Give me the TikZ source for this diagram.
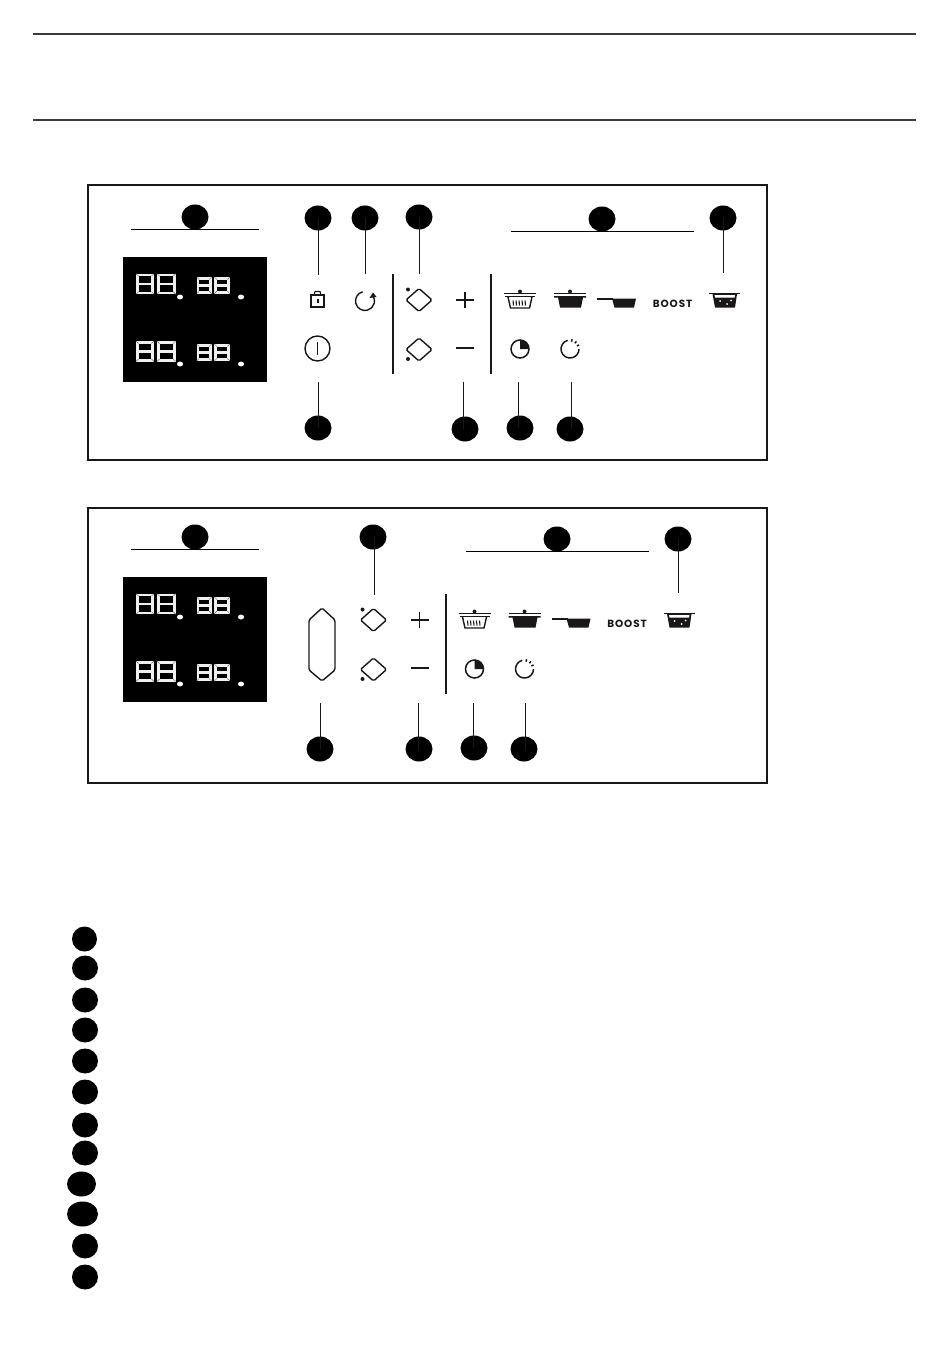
\documentclass[tikz,border=0pt]{standalone}
\usepackage{fontspec}
\newfontfamily\boostfont{Poppins}
\usetikzlibrary{shapes.geometric}
\definecolor{inkcol}{HTML}{1A1718}
\tikzset{
  badge/.style={ellipse,fill=black,inner sep=0pt,minimum width=27pt,minimum height=25pt},
  leader/.style={draw=inkcol,line width=1pt},
  headline/.style={draw=black,line width=1pt},
  panelbox/.style={draw=inkcol,line width=1.6pt},
  divider/.style={draw=inkcol,line width=2pt},
  icon/.style={draw=inkcol,line width=1.4pt},
  solid icon/.style={fill=inkcol,draw=none},
  seg/.style={draw=white!94!black,line width=2.6pt}
}
% one seven segment digit: left, top, width, height
\newcommand{\segdigit}[4]{
  \draw[seg] (#1,#2) rectangle ++(#3,-#4);
  \draw[seg] (#1,#2-0.5*#4) -- ++(#3,0);
  \draw[black!60,line width=0.4pt] (#1-1.3,#2+1.3) -- ++(2.6,-2.6);
  \draw[black!60,line width=0.4pt] (#1+#3+1.3,#2+1.3) -- ++(-2.6,-2.6);
  \draw[black!60,line width=0.4pt] (#1-1.3,#2-#4-1.3) -- ++(2.6,2.6);
  \draw[black!60,line width=0.4pt] (#1+#3+1.3,#2-#4-1.3) -- ++(-2.6,2.6);
}
\begin{document}
\begin{tikzpicture}[x=1pt,y=1pt]
  \useasboundingbox (0,0) rectangle (950,-1364);
  % page rules
  \draw[draw=inkcol!85,line width=1.5pt] (33,-34) -- (916,-34);
  \draw[draw=inkcol!85,line width=1.5pt] (33,-120) -- (916,-120);
  % panels
  \draw[panelbox] (88,-185) rectangle (767,-460);
  \draw[panelbox] (88,-508) rectangle (767,-783);
  % displays
  \foreach \dy in {0,-320}
  { \begin{scope}[yshift=\dy]
    \fill[black] (123,-257) rectangle (267,-382);
    \foreach \x/\w in {137.3/15.4,158.3/16.1}
    {   \segdigit{\x}{-275}{\w}{17.9}
        \segdigit{\x}{-342.3}{\w}{17.9}
    }
    \foreach \x/\w in {198/12.4,215.6/13.1}
    {   \segdigit{\x}{-278.3}{\w}{14.1}
        \segdigit{\x}{-345.3}{\w}{14.4}
    }
    \foreach \x in {180,241}
    {   \fill[white] (\x,-297) ellipse (3 and 2.5);
        \fill[white] (\x,-364) ellipse (3 and 2.5);
    }
    \end{scope}
  }
  % keys that both panels have
  \foreach \dx/\dy in {0/0,-45.5/-320}
  { \begin{scope}[xshift=\dx,yshift=\dy]
    % zone selection
    \draw[icon,rounded corners=1.5pt] (419,-288.5) -- (432,-300) -- (419,-311.5) -- (406,-300) -- cycle;
    \draw[icon,rounded corners=1.5pt] (419,-338) -- (432,-349.5) -- (419,-361) -- (406,-349.5) -- cycle;
    \fill[inkcol] (408,-289.5) circle (2);
    \fill[inkcol] (408,-359) circle (2);
    % plus and minus
    \draw[icon,line width=1.15pt] (456,-300) -- (474,-300);
    \draw[icon,line width=1.15pt] (465,-292) -- (465,-308);
    \draw[icon,line width=1.15pt] (456,-348) -- (474,-348);
    \draw[divider] (491,-274) -- (491,-374);
    % basket
    \fill[inkcol] (520,-291.5) circle (2);
    \draw[icon,line width=1.1pt] (504,-293.5) -- (536,-293.5);
    \draw[icon,line width=1.1pt] (505,-296.7) -- (535,-296.7);
    \draw[icon] (508,-297) -- (510.5,-308) -- (529.5,-308) -- (532,-297);
    \foreach \x in {513,516,519,522,525}
    {   \draw[inkcol,line width=1.1pt] (\x,-300.5) .. controls (\x+1,-302) and (\x-0.5,-303.5) .. (\x+0.5,-305.5);
    }
    % pot
    \fill[inkcol] (570,-291.5) circle (2);
    \draw[icon,line width=1.1pt] (554,-293.5) -- (586,-293.5);
    \fill[solid icon] (554,-296) -- (586,-296) -- (586,-297.5) -- (583,-297.5) -- (581,-307.5) -- (560,-307.5) -- (558,-297.5) -- (554,-297.5) -- cycle;
    % pan
    \draw[icon,line width=1.2pt] (597,-299) -- (613,-299);
    \fill[solid icon] (612,-298.5) -- (636,-298.5) -- (634,-307.5) -- (614.5,-307.5) -- cycle;
    % boost
    \node[inner sep=0pt,text=inkcol] (boost\dy) at (672.5,-303.5) {\fontsize{10.4}{11}\boostfont\addfontfeature{LetterSpace=9}\bfseries BOOST};
    % bubbles
    \draw[icon,line width=1.2pt] (709,-293.7) -- (740,-293.7);
    \fill[solid icon] (712.5,-294) -- (737,-294) -- (735,-307.5) -- (715,-307.5) -- cycle;
    \fill[white] (714.5,-295) -- (735,-295) -- (734.5,-297.5) -- (715,-297.5) -- cycle;
    \fill[white] (720,-301) circle (1);
    \fill[white] (727,-304) circle (1);
    \fill[white] (731,-300.5) circle (1);
    % timer
    \draw[icon,line width=1.5pt] (520,-349) circle (9);
    \fill[inkcol] (520,-349) -- (520,-340) arc[start angle=90,end angle=0,radius=9] -- cycle;
    % countdown
    \draw[icon,line width=1.5pt] ([shift={(105:9)}]570,-349) arc[start angle=105,end angle=360,radius=9];
    \foreach \a in {78,50,24}
    {   \draw[inkcol,line width=1.5pt] ([shift={(\a:7.5)}]570,-349) -- ([shift={(\a:10)}]570,-349);
    }
    \end{scope}
  }
  % panel one only keys
  \draw[icon,line width=1.2pt] (311,-295) rectangle (324,-307);
  \draw[icon,line width=1.1pt] (314,-295) -- (315,-291.5) -- (320,-291.5) -- (321,-295);
  \fill[inkcol] (316.5,-299) rectangle (318.5,-303);
  \draw[icon] ([shift={(105:9.5)}]365,-301) arc[start angle=105,end angle=385,radius=9.5];
  \fill[solid icon] (369.5,-298) -- (376.5,-297) -- (373,-292.5) -- cycle;
  \draw[icon] (317.5,-348.5) circle (12.5);
  \draw[icon,line width=1.8pt] (317.5,-342) -- (317.5,-355);
  \draw[divider] (393,-274) -- (393,-374);
  % panel two slider
  \draw[icon,rounded corners=1.5pt] (322,-608) -- (335,-620) -- (335,-670) -- (322,-681) -- (309,-670) -- (309,-620) -- cycle;
  % head lines
  \draw[headline] (131,-230) -- (259,-230);
  \draw[headline] (511,-232) -- (694,-232);
  \draw[headline] (131,-549) -- (259,-549);
  \draw[headline] (466,-551) -- (649,-551);
  % badges without leader
  \node[badge] (disp one) at (195,-217) {};
  \node[badge] (zones one) at (602,-219) {};
  \node[badge] (disp two) at (195,-537) {};
  \node[badge] (zones two) at (557,-539) {};
  % badges with leader: name, badge x, badge y, leader x, leader end y
  \foreach \name/\x/\y/\lx/\ly in {
    lock/318/-218/318/-275, reload/365/-218/365/-274,
    zone/419/-217/419/-274, bubble/723/-218/723/-273,
    power/318/-428/318/-382, minus/465/-429/463.5/-382,
    timer/520/-428/518.5/-382, count/570/-429/571/-382,
    zoneb/373/-537/374/-595, bubbleb/678/-539/678/-593,
    slider/320/-749/320/-703, minusb/419/-749/418/-703,
    timerb/474/-748/473/-703, countb/524/-749/525/-703}
  {   \node[badge] (\name) at (\x,\y) {};
      \coordinate (\name-end) at (\lx,\ly);
      \draw[leader] (\name-end) -- (\name-end |- \name.center);
  }
  % key to the numbers
  \foreach \n/\x/\y/\w in {
    1/84.5/-939/25, 2/85/-968/26, 3/85/-1000/26, 4/85/-1030/26,
    5/85/-1061/26, 6/85/-1092/26, 7/85/-1125/26, 8/85/-1153/26,
    9/81.5/-1184/29, 10/82.5/-1214/31, 11/85/-1246/26, 12/85/-1277/26}
  {   \node[badge,minimum width=\w pt] (item\n) at (\x,\y) {};
  }
\end{tikzpicture}
\end{document}
